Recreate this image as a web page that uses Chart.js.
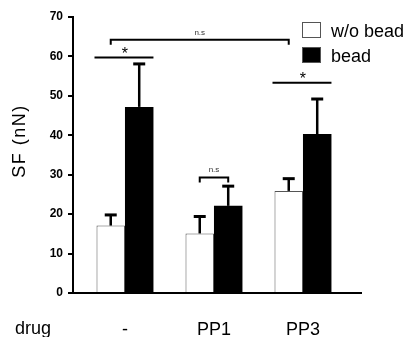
<!DOCTYPE html>
<html>
<head>
<meta charset="utf-8">
<script src="https://cdn.jsdelivr.net/npm/chart.js@4/dist/chart.umd.min.js"></script>
<style>
  html, body { margin: 0; padding: 0; background: #fff; }
  canvas { display: block; }
</style>
</head>
<body>
<canvas id="sfChart" width="409" height="337"></canvas>
<script>
const groups = ['-', 'PP1', 'PP3'];
const noBead = [17.1, 15.1, 25.9];
const noBeadErr = [2.7, 4.3, 3.1];
const bead = [47.2, 22.1, 40.3];
const beadErr = [10.9, 5.0, 8.9];
const yTicks = [0, 10, 20, 30, 40, 50, 60, 70];

// significance marks: star lines over a whole group, brackets between bars [group, series]
const starLines = [
  { group: 0, y: 59.7, label: '*' },
  { group: 2, y: 53.3, label: '*' },
];
const brackets = [
  { from: [0, 0], to: [2, 0], y: 64.2, label: 'n.s' },
  { from: [1, 0], to: [1, 1], y: 29.3, label: 'n.s' },
];

const FONT = '"Liberation Sans", Arial, Helvetica, sans-serif';

const errBars = {
  id: 'errBars',
  afterDatasetsDraw(chart) {
    const { ctx, scales: { y } } = chart;
    const errs = [noBeadErr, beadErr];
    ctx.save();
    ctx.strokeStyle = '#000';
    chart.data.datasets.forEach((ds, di) => {
      chart.getDatasetMeta(di).data.forEach((bar, i) => {
        const top = y.getPixelForValue(ds.data[i].y + errs[di][i]);
        ctx.lineWidth = 2.5;
        ctx.beginPath();
        ctx.moveTo(bar.x, bar.y);
        ctx.lineTo(bar.x, top);
        ctx.stroke();
        ctx.lineWidth = 3;
        ctx.beginPath();
        ctx.moveTo(bar.x - 6, top);
        ctx.lineTo(bar.x + 6, top);
        ctx.stroke();
      });
    });
    ctx.restore();
  },
};

const annotations = {
  id: 'annotations',
  afterDraw(chart) {
    const { ctx, scales: { y } } = chart;
    const bar = (g, s) => chart.getDatasetMeta(s).data[g];
    ctx.save();
    ctx.strokeStyle = '#000';
    ctx.fillStyle = '#000';
    ctx.textAlign = 'center';

    starLines.forEach(m => {
      const a = bar(m.group, 0), b = bar(m.group, 1);
      const py = y.getPixelForValue(m.y);
      ctx.lineWidth = 2;
      ctx.beginPath();
      ctx.moveTo(a.x - a.width / 2 - 2, py);
      ctx.lineTo(b.x + b.width / 2, py);
      ctx.stroke();
      ctx.font = '16px ' + FONT;
      ctx.textBaseline = 'alphabetic';
      ctx.fillText(m.label, (a.x + b.x) / 2, py + 1);
    });

    brackets.forEach(m => {
      const a = bar(m.from[0], m.from[1]), b = bar(m.to[0], m.to[1]);
      const py = y.getPixelForValue(m.y);
      ctx.lineWidth = 2;
      ctx.beginPath();
      ctx.moveTo(a.x, py + 5);
      ctx.lineTo(a.x, py);
      ctx.lineTo(b.x, py);
      ctx.lineTo(b.x, py + 5);
      ctx.stroke();
      ctx.font = '8px ' + FONT;
      ctx.fillStyle = '#333';
      ctx.textBaseline = 'alphabetic';
      ctx.fillText(m.label, (a.x + b.x) / 2, py - 5);
      ctx.fillStyle = '#000';
    });

    // legend
    ctx.textAlign = 'left';
    ctx.font = '18px ' + FONT;
    chart.data.datasets.forEach((ds, i) => {
      const top = 22 + i * 25;
      ctx.fillStyle = ds.backgroundColor;
      ctx.fillRect(302, top, 19, 16);
      ctx.lineWidth = 1;
      ctx.strokeStyle = '#555';
      ctx.strokeRect(302.5, top + 0.5, 18, 15);
      ctx.fillStyle = '#000';
      ctx.fillText(ds.label, 331, top + 15);
    });

    // axis title and row label
    ctx.fillText('drug', 15, 334);
    ctx.translate(25, 141);
    ctx.rotate(-Math.PI / 2);
    ctx.textAlign = 'center';
    ctx.letterSpacing = '1.5px';
    ctx.fillText('SF (nN)', 0, 0);
    ctx.restore();
  },
};

new Chart(document.getElementById('sfChart'), {
  type: 'bar',
  data: {
    datasets: [
      { label: 'w/o bead', data: noBead.map((v, i) => ({ x: i, y: v })), backgroundColor: '#fff', borderColor: '#555', borderWidth: 1 },
      { label: 'bead', data: bead.map((v, i) => ({ x: i, y: v })), backgroundColor: '#000', borderColor: '#000', borderWidth: 0 },
    ],
  },
  options: {
    responsive: false,
    animation: false,
    categoryPercentage: 0.64,
    barPercentage: 1,
    layout: { padding: { top: 17, right: 48, left: 0, bottom: 0 } },
    plugins: { legend: { display: false }, tooltip: { enabled: false } },
    scales: {
      x: {
        type: 'linear',
        offset: false,
        min: -0.584, max: 2.652,
        afterBuildTicks: s => { s.ticks = groups.map((_, i) => ({ value: i })); },
        afterFit: s => { s.height = 44; },
        ticks: { callback: v => groups[v] ?? '', color: '#000', font: { family: FONT, size: 18 }, padding: 26, maxRotation: 0, autoSkip: false },
        grid: { display: false, drawTicks: false },
        border: { color: '#000', width: 2 },
      },
      y: {
        min: 0, max: 70,
        afterBuildTicks: s => { s.ticks = yTicks.map(v => ({ value: v })); },
        afterFit: s => { s.width = 73; },
        ticks: { color: '#000', font: { family: FONT, size: 12, weight: 'bold' }, padding: 5 },
        grid: { drawOnChartArea: false, tickLength: 5, color: '#000', lineWidth: 2 },
        border: { color: '#000', width: 2 },
      },
    },
  },
  plugins: [errBars, annotations],
});
</script>
</body>
</html>
